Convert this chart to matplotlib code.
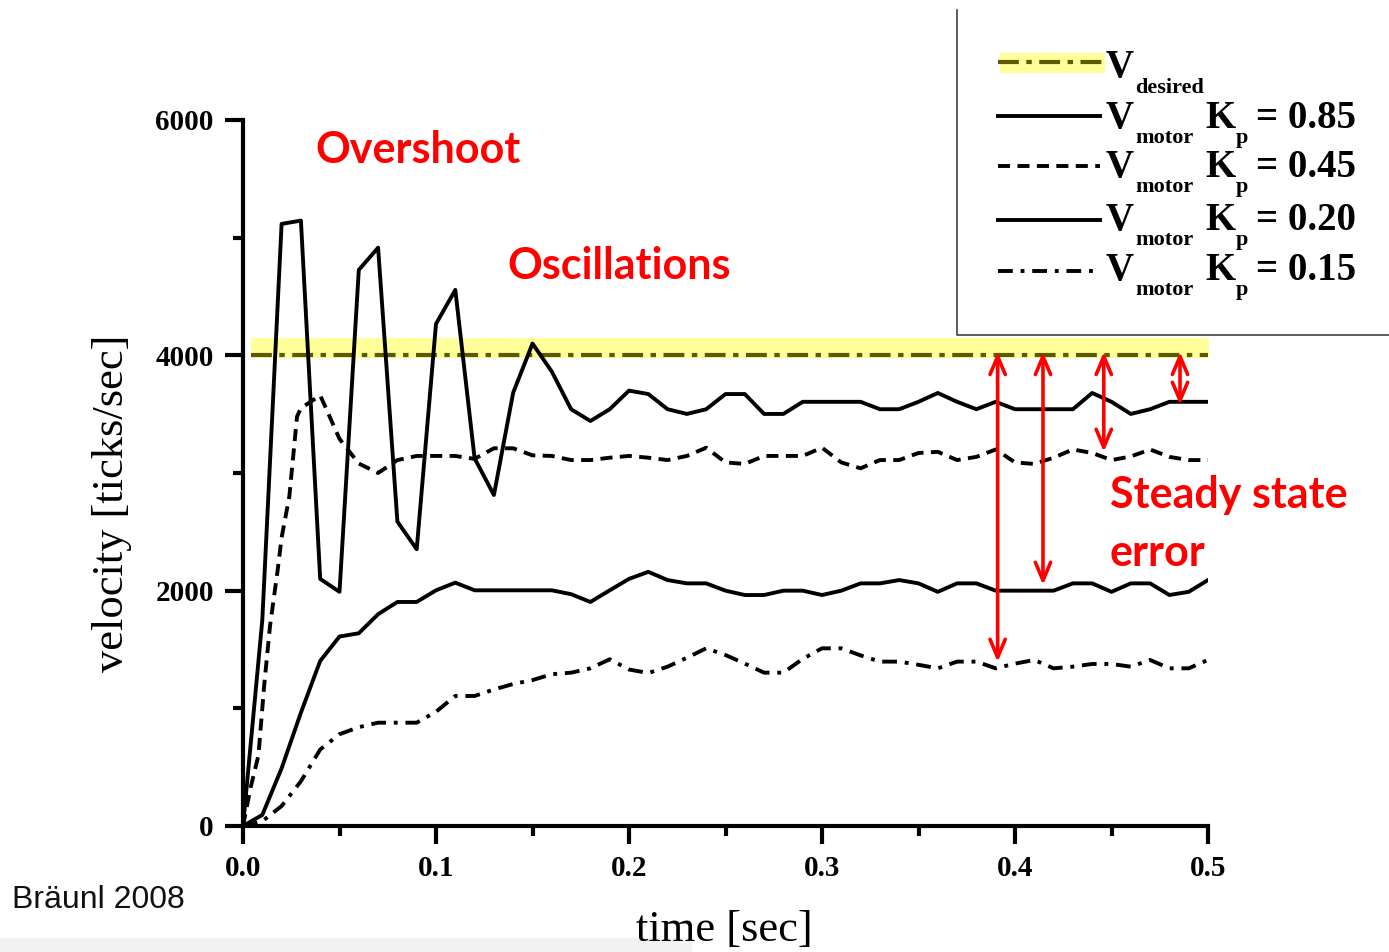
import numpy as np
import matplotlib.pyplot as plt
from matplotlib.lines import Line2D
from matplotlib.patches import Rectangle
from matplotlib.ticker import MultipleLocator, FormatStrFormatter

# time axis (10 ms samples)
time = [round(0.01 * i, 2) for i in range(51)]

v_desired = 4000

v_kp085 = [0, 1750, 5117, 5145, 2100, 1990, 4726, 4915, 2587, 2352,
           4267, 4556, 3125, 2813, 3683, 4100, 3862, 3542, 3442, 3542,
           3700, 3671, 3542, 3502, 3542, 3671, 3671, 3502, 3502, 3605,
           3605, 3605, 3605, 3542, 3542, 3605, 3680, 3605, 3542, 3605,
           3542, 3542, 3542, 3542, 3680, 3605, 3502, 3542, 3605, 3605,
           3605]

# Kp = 0.45 has a few extra samples during the rise
t_kp045 = [0, 0.004, 0.008, 0.011, 0.014, 0.018, 0.02, 0.024, 0.028] + time[3:]
v_kp045 = [0, 330, 600, 1200, 1700, 2180, 2450, 2800, 3480,
           3550, 3660, 3290, 3080, 3000, 3110, 3145, 3145, 3145, 3120,
           3210, 3210, 3150, 3145, 3110, 3110, 3130, 3145, 3130, 3110,
           3145, 3215, 3090, 3077, 3145, 3145, 3145, 3215, 3090, 3040,
           3110, 3110, 3170, 3180, 3110, 3137, 3200, 3090, 3077, 3130,
           3200, 3170, 3110, 3140, 3200, 3137, 3110, 3110]

v_kp020 = [0, 94, 490, 963, 1403, 1610, 1638, 1800, 1904, 1904,
           2003, 2068, 2003, 2003, 2003, 2003, 2003, 1970, 1904, 2003,
           2100, 2160, 2090, 2062, 2062, 2000, 1963, 1963, 2000, 2000,
           1963, 2000, 2062, 2062, 2090, 2062, 1990, 2062, 2062, 2000,
           2000, 2000, 2000, 2062, 2062, 1990, 2062, 2062, 1963, 1990,
           2090]

v_kp015 = [0, 40, 170, 380, 650, 780, 840, 878, 878, 878,
           971, 1105, 1105, 1160, 1207, 1240, 1290, 1303, 1340, 1417,
           1330, 1300, 1354, 1430, 1510, 1453, 1380, 1303, 1303, 1420,
           1510, 1510, 1450, 1397, 1397, 1370, 1340, 1397, 1397, 1340,
           1380, 1411, 1340, 1354, 1377, 1377, 1354, 1411, 1340, 1340,
           1411]

# steady state error arrows: time, lower end, upper end
arrow_t = [0.391, 0.4145, 0.446, 0.4855]
arrow_low = [1394, 2048, 3179, 3578]
arrow_high = [4030, 4030, 4030, 4030]

legend_kp = ['0.85', '0.45', '0.20', '0.15']

serif = 'Liberation Serif'
olive = '#5c5a00'
yellow = '#ffff99'
lw = 2.8
dash45 = (3.1, 1.9)
dash15 = (3.8, 2, 1, 2)
dashdes = (5, 1.8, 1.3, 1.8)

fig = plt.figure(figsize=(13.89, 9.52), dpi=100)
# light grey strip at the bottom of the slide, behind everything
fig.patches.append(Rectangle((0, 0), 692 / 1389, 14 / 952, color='#f2f2f2',
                             lw=0, transform=fig.transFigure, zorder=-1))

ax = fig.add_axes([243 / 1389, 1 - 826 / 952, 965 / 1389, 706 / 952])
ax.patch.set_alpha(0)

ax.fill_between([0.004, 0.501], 3975, 4150, color=yellow, lw=0, zorder=1)
ax.plot([0.004, 0.5], [v_desired, v_desired], color=olive, lw=3,
        dashes=dashdes, zorder=2)
ax.plot(time, v_kp085, color='black', lw=lw, zorder=3)
ax.plot(t_kp045, v_kp045, color='black', lw=lw, dashes=dash45, zorder=3)
ax.plot(time, v_kp020, color='black', lw=lw, zorder=3)
ax.plot(time, v_kp015, color='black', lw=lw, dashes=dash15, zorder=3)

for t, lo, hi in zip(arrow_t, arrow_low, arrow_high):
    ax.annotate('', xy=(t, lo), xytext=(t, hi),
                arrowprops=dict(arrowstyle='<->,head_length=1.3,head_width=0.55',
                                color='red', lw=2.6, shrinkA=0, shrinkB=0),
                zorder=4)

ax.set_xlim(0, 0.5)
ax.set_ylim(0, 6000)
for s in ['top', 'right']:
    ax.spines[s].set_visible(False)
for s in ['left', 'bottom']:
    ax.spines[s].set_linewidth(3)
ax.xaxis.set_major_locator(MultipleLocator(0.1))
ax.xaxis.set_minor_locator(MultipleLocator(0.05))
ax.xaxis.set_major_formatter(FormatStrFormatter('%.1f'))
ax.yaxis.set_major_locator(MultipleLocator(2000))
ax.yaxis.set_minor_locator(MultipleLocator(1000))
ax.tick_params(which='major', direction='out', length=13, width=3, pad=8)
ax.tick_params(which='minor', direction='out', length=7, width=3)
for lab in ax.get_xticklabels() + ax.get_yticklabels():
    lab.set_fontfamily(serif)
    lab.set_fontweight('bold')
    lab.set_fontsize(21)

ax.set_ylabel('velocity [ticks/sec]', family=serif, fontsize=32, va='center')
ax.yaxis.set_label_coords(-0.1358, 0.457)
ax.set_xlabel('time [sec]', family=serif, fontsize=32, va='center')
ax.xaxis.set_label_coords(0.4984, -0.1473)

# overlay in pixel coordinates for annotations and the legend box
ov = fig.add_axes([0, 0, 1, 1], facecolor='none')
ov.set_xlim(0, 1389)
ov.set_ylim(952, 0)
ov.axis('off')

red_kw = dict(family='Lato', weight='bold', color='red', fontsize=31,
              ha='left', va='baseline')
ov.text(315, 163, 'Overshoot', **red_kw)
ov.text(507, 279, 'Oscillations', **red_kw)
ov.text(1110, 508, 'Steady state', **red_kw)
ov.text(1110, 566, 'error', **red_kw)

ov.text(12, 908, 'Bräunl 2008', family='Liberation Sans', fontsize=23,
        ha='left', va='baseline', color='#111111')

# legend frame (left and bottom edges visible)
ov.add_line(Line2D([957, 957, 1389], [10, 335, 335], color='#404040', lw=1.2))

rows = [62, 116, 166, 220, 271]
base = [77, 128, 177, 230, 280]
ov.add_patch(Rectangle((1000, 53), 105, 20, color=yellow, lw=0))
ov.add_line(Line2D([998, 1102], [rows[0]] * 2, color=olive, lw=3, dashes=dashdes))
ov.add_line(Line2D([998, 1100], [rows[1]] * 2, color='black', lw=lw))
ov.add_line(Line2D([998, 1100], [rows[2]] * 2, color='black', lw=lw, dashes=dash45))
ov.add_line(Line2D([998, 1100], [rows[3]] * 2, color='black', lw=lw))
ov.add_line(Line2D([998, 1100], [rows[4]] * 2, color='black', lw=lw, dashes=dash15))

big = dict(family=serif, weight='bold', fontsize=28, ha='left', va='baseline')
small = dict(family=serif, weight='bold', fontsize=16, ha='left', va='baseline')
ov.text(1106, base[0], 'V', **big)
ov.text(1135, base[0] + 16, 'desired', **small)
for i, kp in enumerate(legend_kp):
    b = base[i + 1]
    ov.text(1106, b, 'V', **big)
    ov.text(1135, b + 15, 'motor', **small)
    ov.text(1205, b, 'K', **big)
    ov.text(1236, b + 15, 'p', **small)
    ov.text(1256, b, '= ' + kp, **big)

fig.savefig('out.png', dpi=100)
